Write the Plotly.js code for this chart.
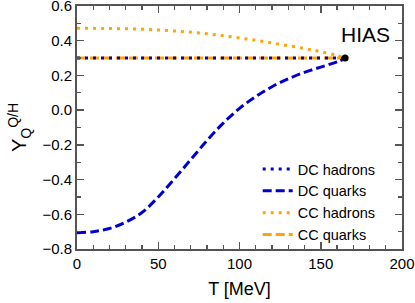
<!DOCTYPE html>
<html>
<head>
<meta charset="utf-8">
<script src="https://cdn.plot.ly/plotly-3.0.1.min.js"></script>
<style>html,body{margin:0;padding:0;background:#fff;}#chart{width:415px;height:303px;}</style>
</head>
<body>
<div id="chart"></div>
<script>
// Temperature grid (MeV)
const T_dcq = [0, 10, 20, 30, 40, 50, 60, 70, 80, 90, 100, 110, 120, 130, 140, 150, 160, 165];
const Y_dcq = [-0.706, -0.700, -0.682, -0.645, -0.590, -0.500, -0.395, -0.285, -0.175, -0.075, 0.010, 0.078, 0.135, 0.180, 0.218, 0.248, 0.278, 0.298];

const T_cch = [0, 20, 40, 60, 80, 100, 120, 140, 150, 160, 165];
const Y_cch = [0.472, 0.470, 0.466, 0.456, 0.440, 0.416, 0.387, 0.355, 0.337, 0.315, 0.300];

const T_flat = [0, 165];
const Y_dch = [0.300, 0.300];
const Y_ccq = [0.300, 0.300];

const T_end = [165];
const Y_end = [0.300];

const xRange = [0, 200];
const yRange = [-0.8, 0.6];
const xTicks = [0, 50, 100, 150, 200];
const yTicks = [-0.8, -0.6, -0.4, -0.2, 0, 0.2, 0.4, 0.6];

const seriesNames = ["DC hadrons", "DC quarks", "CC hadrons", "CC quarks"];
const blue = "#0000cc";
const orange = "#ffa500";

const traces = [
  {x: T_flat, y: Y_ccq, name: seriesNames[3], mode: "lines", legendrank: 4,
   line: {color: orange, width: 3, dash: "9px,4px"}},
  {x: T_flat, y: Y_dch, name: seriesNames[0], mode: "lines", legendrank: 1,
   line: {color: blue, width: 3, dash: "3px,5px"}},
  {x: T_dcq, y: Y_dcq, name: seriesNames[1], mode: "lines", legendrank: 2, line: {color: blue, width: 3, dash: "9px,4px", shape: "spline"}},
  {x: T_cch, y: Y_cch, name: seriesNames[2], mode: "lines", legendrank: 3,
   line: {color: orange, width: 3, dash: "3px,5px", shape: "spline"}},
  {x: T_end, y: Y_end, mode: "markers", showlegend: false,
   marker: {color: "#000", size: 7}},
  // invisible helper so the mirrored (top/right) axes with minor ticks are drawn
  {x: T_end, y: Y_end, xaxis: "x2", yaxis: "y2", mode: "markers", showlegend: false,
   marker: {opacity: 0}, hoverinfo: "skip"}
];

const axisCommon = {
  showgrid: false, zeroline: false, showline: true, linecolor: "#555", linewidth: 2,
  ticks: "inside", ticklen: 7, tickwidth: 1.5, tickcolor: "#555", ticklabeloverflow: "allow",
  tickfont: {family: "Liberation Sans, Arial, sans-serif", size: 15, color: "#000"}
};
const xMinor = {dtick: 10, ticks: "inside", ticklen: 4, tickcolor: "#555", tickwidth: 1.2};
const yMinor = {dtick: 0.1, ticks: "inside", ticklen: 4, tickcolor: "#555", tickwidth: 1.2};

const layout = {
  width: 415, height: 303,
  margin: {l: 77, r: 13, t: 6, b: 54},
  paper_bgcolor: "#fff", plot_bgcolor: "#fff",
  font: {family: "Liberation Sans, Arial, sans-serif", color: "#000"},
  xaxis: Object.assign({}, axisCommon, {
    range: xRange, tickvals: xTicks, minor: xMinor,
    title: {text: "T [MeV]", font: {size: 18}, standoff: 11}
  }),
  yaxis: Object.assign({}, axisCommon, {
    range: yRange, tickvals: yTicks, tickformat: ".1f", minor: yMinor,
    title: {text: "Y<sub>Q</sub><sup>Q/H</sup>", font: {size: 20}, standoff: 10}
  }),
  xaxis2: Object.assign({}, axisCommon, {
    range: xRange, tickvals: xTicks, minor: xMinor, overlaying: "x", side: "top",
    anchor: "y2", showticklabels: false
  }),
  yaxis2: Object.assign({}, axisCommon, {
    range: yRange, tickvals: yTicks, minor: yMinor, overlaying: "y", side: "right",
    anchor: "x2", showticklabels: false
  }),
  legend: {x: 0.556, xanchor: "left", y: 0.395, yanchor: "top", bgcolor: "rgba(0,0,0,0)",
    font: {size: 14.5}, tracegroupgap: 0},
  showlegend: true,
  annotations: [{text: "HIAS", xref: "x", yref: "y", x: 194, y: 0.433, xanchor: "right", yanchor: "middle",
    showarrow: false, font: {size: 21, color: "#000"}}]
};

Plotly.newPlot("chart", traces, layout, {displayModeBar: false, staticPlot: true});
</script>
</body>
</html>
